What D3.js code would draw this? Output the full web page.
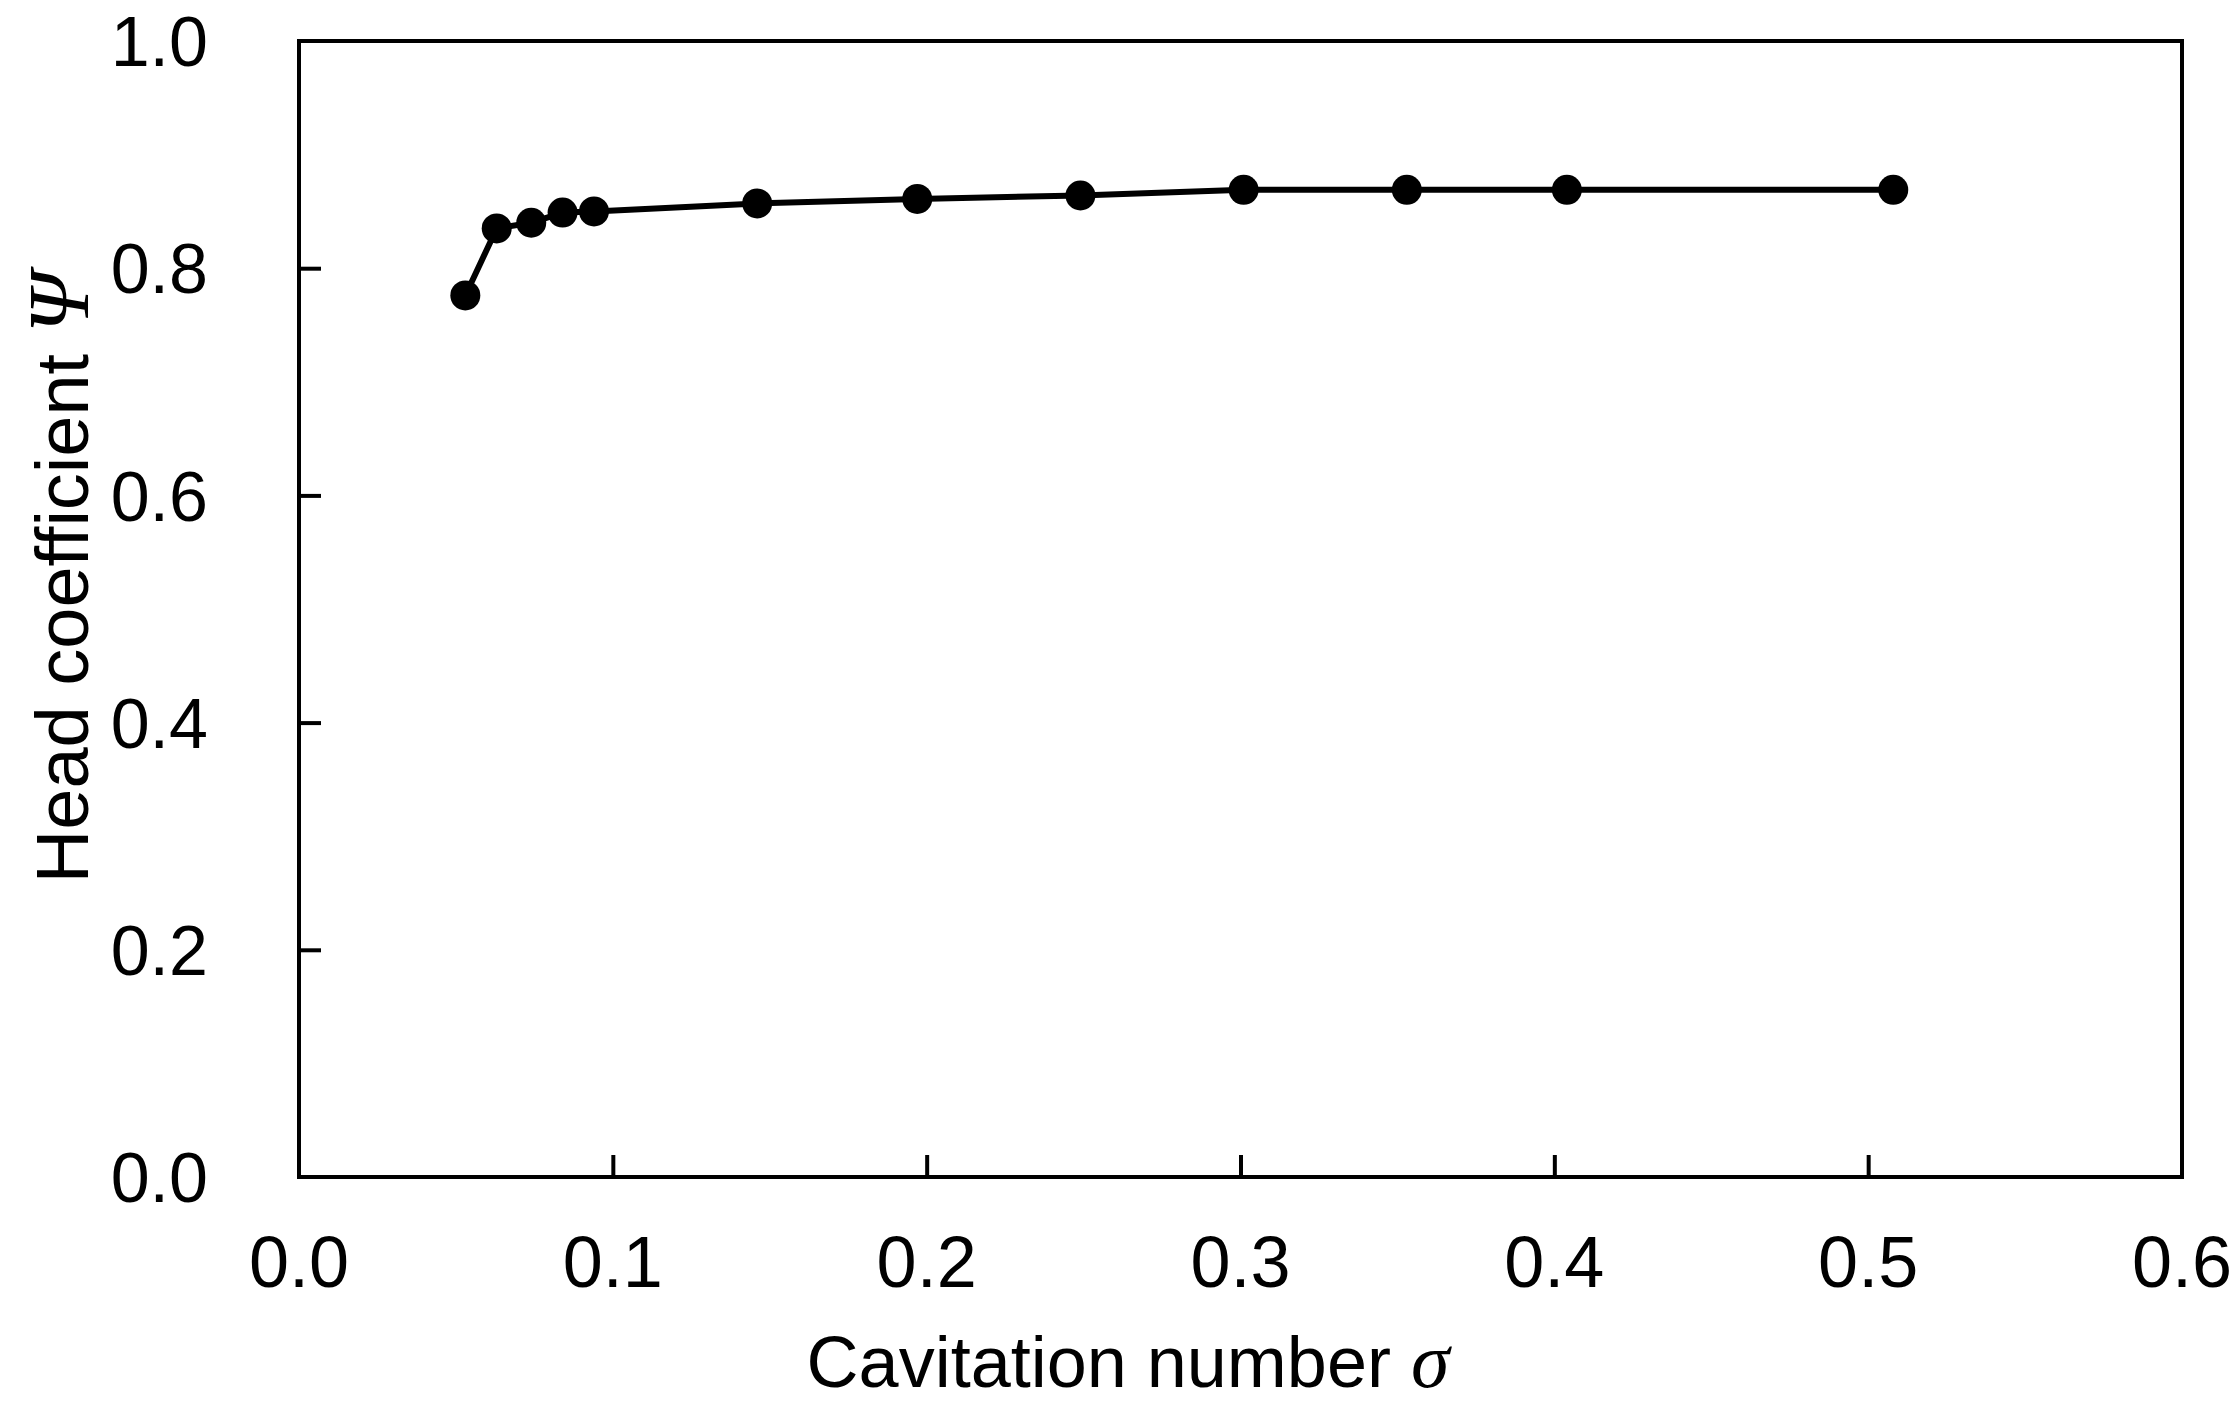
<!DOCTYPE html>
<html>
<head>
<meta charset="utf-8">
<script src="https://cdn.jsdelivr.net/npm/d3@7"></script>
<style>
  body { margin: 0; background: #fff; }
  text { font-family: "Liberation Sans", Arial, sans-serif; fill: #000; }
</style>
</head>
<body>
<svg id="chart"></svg>
<script>
// cavitation number sigma vs head coefficient psi
const sigma = [0.053, 0.063, 0.074, 0.084, 0.094, 0.146, 0.197, 0.249, 0.301, 0.353, 0.404, 0.508];
const psi = [0.776, 0.835, 0.840, 0.849, 0.850, 0.857, 0.861, 0.864, 0.869, 0.869, 0.869, 0.869];
const xTicks = [0.0, 0.1, 0.2, 0.3, 0.4, 0.5, 0.6];
const yTicks = [0.0, 0.2, 0.4, 0.6, 0.8, 1.0];

const W = 2229, H = 1408;
const margin = {top: 41, right: 47, bottom: 231, left: 299};
const width = W - margin.left - margin.right;
const height = H - margin.top - margin.bottom;

const svg = d3.select('#chart')
    .attr('width', W)
    .attr('height', H)
    .append('g')
    .attr('transform', `translate(${margin.left},${margin.top})`);

const x = d3.scaleLinear().domain([0, 0.6]).range([0, width]);
const y = d3.scaleLinear().domain([0, 1.0]).range([height, 0]);

// inward ticks, labels drawn separately
const xAxis = svg.append('g')
    .attr('transform', `translate(0,${height})`)
    .call(d3.axisBottom(x).tickValues(xTicks.slice(1, -1)).tickSize(-22).tickFormat(''));
const yAxis = svg.append('g')
    .call(d3.axisLeft(y).tickValues(yTicks.slice(1, -1)).tickSize(-22).tickFormat(''));
[xAxis, yAxis].forEach(a => {
    a.select('.domain').remove();
    a.selectAll('line').attr('stroke', '#000').attr('stroke-width', 4);
});

svg.selectAll('.xlab')
    .data(xTicks)
    .enter().append('text')
    .attr('x', d => x(d))
    .attr('y', height + 110)
    .attr('text-anchor', 'middle')
    .style('font-size', '72px')
    .text(d => d.toFixed(1));

svg.selectAll('.ylab')
    .data(yTicks)
    .enter().append('text')
    .attr('x', -91)
    .attr('y', d => y(d))
    .attr('dy', '0.36em')
    .attr('text-anchor', 'end')
    .style('font-size', '70px')
    .text(d => d.toFixed(1));

// frame
svg.append('rect')
    .attr('width', width)
    .attr('height', height)
    .attr('fill', 'none')
    .attr('stroke', '#000')
    .attr('stroke-width', 4);

const pts = sigma.map((s, i) => ({s: s, p: psi[i]}));

const line = d3.line()
    .x(d => x(d.s))
    .y(d => y(d.p));

svg.append('path')
    .datum(pts)
    .attr('fill', 'none')
    .attr('stroke', '#000')
    .attr('stroke-width', 6)
    .attr('d', line);

svg.selectAll('circle')
    .data(pts)
    .enter().append('circle')
    .attr('cx', d => x(d.s))
    .attr('cy', d => y(d.p))
    .attr('r', 15)
    .attr('fill', '#000');

// axis titles
const xt = svg.append('text')
    .attr('x', 829)
    .attr('y', height + 210)
    .attr('text-anchor', 'middle')
    .style('font-size', '72px');
xt.append('tspan').text('Cavitation number ');
xt.append('tspan').style('font-family', '"Liberation Serif", serif').style('font-style', 'italic').style('font-size', '78px').text('σ');

const yt = svg.append('text')
    .attr('transform', `translate(${-211},537) rotate(-90)`)
    .attr('text-anchor', 'middle')
    .style('font-size', '74px');
yt.append('tspan').text('Head coefficient ');
yt.append('tspan').style('font-family', '"Liberation Serif", serif').style('font-style', 'italic').style('font-size', '86px').text('Ψ');
</script>
</body>
</html>
